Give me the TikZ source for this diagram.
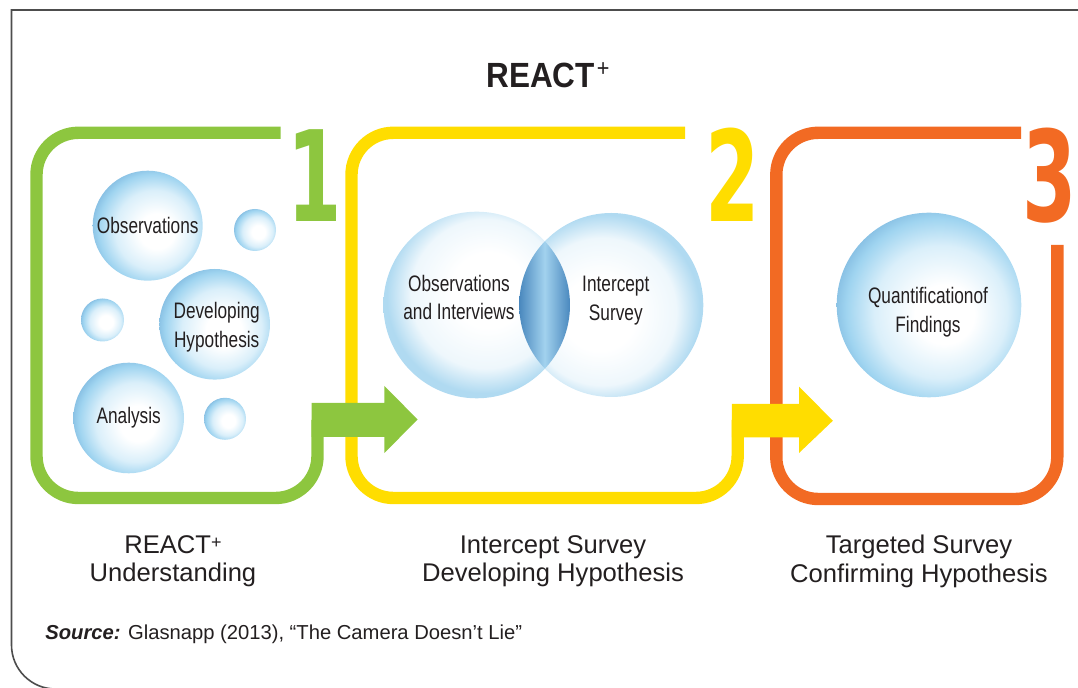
\documentclass[tikz,border=0pt]{standalone}
\usepackage{fontspec}
\setmainfont{Liberation Sans}
\newfontfamily\narrowfont[FakeStretch=0.77]{Liberation Sans}
\newfontfamily\titlefont[FakeStretch=0.9]{Liberation Sans}
\newfontfamily\stepfont[FakeStretch=0.62]{DejaVu Sans}
\usepackage{xcolor}
\definecolor{react-green}{HTML}{8DC63F}
\definecolor{react-yellow}{HTML}{FFDD00}
\definecolor{react-orange}{HTML}{F26A23}
\definecolor{ink}{HTML}{231F20}
\definecolor{frame-grey}{HTML}{4D4D4D}
\definecolor{bubble-light}{HTML}{DAEFFA}
\definecolor{bubble-mid}{HTML}{9FD4F0}
\definecolor{bubble-dark}{HTML}{6FAAD6}
\definecolor{venn-pale}{HTML}{EEF7FC}
\definecolor{venn-blue}{HTML}{B0DAF1}
\definecolor{lens-dark}{HTML}{4A88BE}
\definecolor{lens-light}{HTML}{A2D2EE}
\usepackage{tikz}
\pgfdeclareradialshading{bubbleshade}{\pgfpoint{5bp}{-3bp}}{color(0bp)=(white); color(8bp)=(white); color(18bp)=(bubble-light); color(25bp)=(bubble-mid); color(31bp)=(bubble-dark); color(50bp)=(bubble-dark)}
\pgfdeclareradialshading{vennleft}{\pgfpoint{4bp}{5bp}}{color(0bp)=(white); color(10bp)=(white); color(20bp)=(venn-pale); color(26bp)=(venn-blue); color(50bp)=(venn-blue)}
\pgfdeclareradialshading{vennright}{\pgfpoint{-4bp}{-3bp}}{color(0bp)=(white); color(10bp)=(white); color(20bp)=(venn-pale); color(26bp)=(venn-blue); color(50bp)=(venn-blue)}
\tikzset{stage/.style = {line width=6.2pt}}
\tikzset{bubble/.style = {circle, shade, shading=bubbleshade, inner sep=0pt}}
\tikzset{bubbletext/.style = {align=center, text=ink, inner sep=0pt, font=\narrowfont\fontsize{11.2}{14.3}\selectfont}}
\tikzset{caption/.style = {align=center, text=ink, anchor=north, inner sep=0pt, font=\fontsize{12.8}{14.2}\selectfont}}
\tikzset{stepno/.style = {anchor=base, inner sep=0pt, font=\stepfont\bfseries\fontsize{63}{63}\selectfont}}

\begin{document}
\begin{tikzpicture}[x=0.5pt, y=-0.5pt]
\useasboundingbox (0,0) rectangle (1078,688);
\clip (0,0) rectangle (1078,688);

% outer frame
\draw[frame-grey, line width=0.8pt] (1090,10) -- (11.5,10) -- (11.5,600)
  [rounded corners=22pt] -- (11.5,689) -- (1090,689);

\node[text=ink, anchor=base west, inner sep=0pt, font=\titlefont\bfseries\fontsize{17.5}{17.5}\selectfont] (title) at (486,87.7)
  {REACT\kern1pt\raisebox{5.5pt}{\mdseries\fontsize{12}{12}\selectfont +}};

% the three stages
\draw[stage, react-green, rounded corners=21pt] (280.6,132.8) -- (36.5,132.8) -- (36.5,498) -- (317.5,498) -- (317.5,420);
\draw[stage, react-yellow, rounded corners=21pt] (685,132.8) -- (351.5,132.8) -- (351.5,498) -- (737.7,498) -- (737.7,420);
\draw[stage, react-orange, rounded corners=21pt] (1021,132.8) -- (776.3,132.8) -- (776.3,499) -- (1057.3,499) -- (1057.3,245);

\fill[react-green] (311.7,403) -- (384.3,403) -- (384.3,386) -- (417.7,419.5)
  -- (384.3,453) -- (384.3,437) -- (311.7,437) -- cycle;
\fill[react-yellow] (731.8,404) -- (799,404) -- (799,386.7) -- (832.9,420.7)
  -- (799,453) -- (799,437.3) -- (731.8,437.3) -- cycle;

\node[stepno, react-green] (n1) at (314.2,221.5) {1};
\node[stepno, react-yellow] (n2) at (732.5,221.5) {2};
\node[stepno, react-orange] (n3) at (1049.3,221.5) {3};

% stage 1 bubbles
\node[bubble, minimum size=55pt] (obs) at (147.7,225.7) {};
\node[bubble, minimum size=21pt] (dot1) at (255,230) {};
\node[bubble, minimum size=21.5pt] (dot2) at (102.5,320) {};
\node[bubble, minimum size=55.3pt] (hyp) at (214.7,324.3) {};
\node[bubble, minimum size=55.3pt] (ana) at (128.7,418) {};
\node[bubble, minimum size=21pt] (dot3) at (225,418.8) {};
\node[bubbletext] at (obs) {Observations};
\node[bubbletext] at ([shift={(2,2.7)}]hyp.center) {Developing\\Hypothesis};
\node[bubbletext] at (ana) {Analysis};

% stage 2 venn
\node[circle, shade, shading=vennleft, inner sep=0pt, minimum size=93.3pt] (vennL) at (476.7,305) {};
\node[circle, shade, shading=vennright, inner sep=0pt, minimum size=92pt] (vennR) at (611.3,305) {};
\begin{scope}
  \clip (vennL.center) circle[radius=46.65pt];
  \clip (vennR.center) circle[radius=46pt];
  \shade[left color=lens-dark, right color=lens-dark, middle color=lens-light] (519.3,205) rectangle (570,405);
\end{scope}
\node[bubbletext] (obsint) at (459,297.5) {Observations\\and Interviews};
\node[bubbletext] (survey) at (615.8,300.5) {Intercept\\Survey};

% stage 3
\node[bubble, minimum size=92.3pt] (quant) at (929,305) {};
\node[bubbletext] (quanttext) at (928,312) {Quantificationof\\Findings};

% captions
\node[caption] (cap1) at (173,535) {REACT\raisebox{2.6pt}{\fontsize{9}{9}\selectfont +}\\Understanding};
\node[caption] (cap2) at (553,535) {Intercept Survey\\Developing Hypothesis};
\node[caption] (cap3) at (919,535) {Targeted Survey\\Confirming Hypothesis};

\node[text=ink, anchor=base west, inner sep=0pt, font=\fontsize{10.1}{12}\selectfont] (source) at (45,640)
  {\textbf{\textit{Source:}} Glasnapp (2013), “The Camera Doesn’t Lie”};

\end{tikzpicture}
\end{document}
